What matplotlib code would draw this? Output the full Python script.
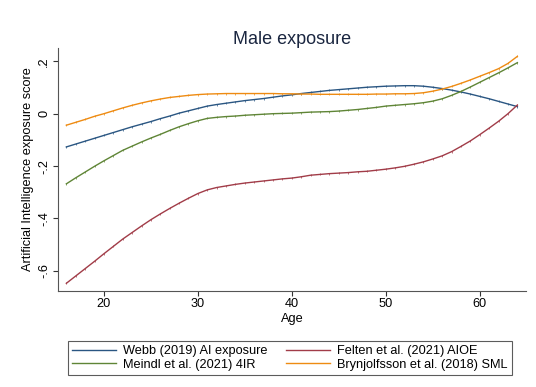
import numpy as np
import matplotlib
matplotlib.use("Agg")
import matplotlib.pyplot as plt

plt.rcParams['font.family'] = ['Liberation Sans', 'DejaVu Sans']

# age profile of AI exposure, men
ages = np.arange(16, 65)

webb = [-0.127, -0.116, -0.105, -0.094, -0.083, -0.072, -0.061, -0.050, -0.040, -0.030,
        -0.019, -0.009, 0.002, 0.011, 0.020, 0.029, 0.035, 0.040, 0.045, 0.050,
        0.054, 0.058, 0.063, 0.068, 0.072, 0.077, 0.081, 0.085, 0.089, 0.092,
        0.095, 0.098, 0.101, 0.103, 0.105, 0.106, 0.107, 0.107, 0.105, 0.101,
        0.096, 0.090, 0.083, 0.075, 0.066, 0.057, 0.047, 0.037, 0.027]

felten = [-0.648, -0.620, -0.592, -0.564, -0.535, -0.507, -0.479, -0.454, -0.429, -0.405,
          -0.383, -0.362, -0.342, -0.323, -0.305, -0.291, -0.282, -0.276, -0.270, -0.265,
          -0.261, -0.257, -0.253, -0.249, -0.246, -0.241, -0.235, -0.232, -0.229, -0.227,
          -0.225, -0.222, -0.220, -0.216, -0.212, -0.207, -0.201, -0.193, -0.184, -0.173,
          -0.161, -0.145, -0.125, -0.104, -0.080, -0.055, -0.029, 0.000, 0.033]

meindl = [-0.268, -0.245, -0.223, -0.201, -0.180, -0.160, -0.140, -0.124, -0.108, -0.093,
          -0.079, -0.064, -0.050, -0.038, -0.027, -0.018, -0.014, -0.011, -0.009, -0.006,
          -0.004, -0.002, 0.000, 0.001, 0.002, 0.004, 0.006, 0.007, 0.008, 0.010,
          0.013, 0.016, 0.020, 0.024, 0.029, 0.032, 0.035, 0.038, 0.042, 0.048,
          0.057, 0.070, 0.085, 0.102, 0.120, 0.138, 0.156, 0.175, 0.195]

brynjolfsson = [-0.044, -0.033, -0.022, -0.010, 0.000, 0.011, 0.022, 0.032, 0.041, 0.049,
                0.056, 0.062, 0.066, 0.070, 0.073, 0.075, 0.076, 0.077, 0.077, 0.077,
                0.077, 0.077, 0.077, 0.076, 0.076, 0.075, 0.075, 0.074, 0.074, 0.074,
                0.074, 0.074, 0.074, 0.075, 0.075, 0.076, 0.076, 0.077, 0.080, 0.086,
                0.094, 0.104, 0.116, 0.129, 0.143, 0.157, 0.172, 0.192, 0.219]

labels = ["Webb (2019) AI exposure", "Felten et al. (2021) AIOE",
          "Meindl et al. (2021) 4IR", "Brynjolfsson et al. (2018) SML"]
colors = ["#2a5682", "#a13c48", "#5f8536", "#ee8b12"]
yticks = [-0.6, -0.4, -0.2, 0, 0.2]
yticklabels = ["-.6", "-.4", "-.2", "0", ".2"]
xticks = [20, 30, 40, 50, 60]

fig = plt.figure(figsize=(5.36, 3.87), dpi=100)
ax = fig.add_axes([0.108, 0.249, 0.873, 0.627])

series = [webb, felten, meindl, brynjolfsson]
handles = []
for vals, lab, c in zip(series, labels, colors):
    h, = ax.plot(ages, vals, color=c, lw=1.0, marker='|', ms=2.0, mew=0.5, label=lab)
    handles.append(h)

ax.set_xlim(15.1, 64.9)
ax.set_ylim(-0.676, 0.251)
ax.set_xticks(xticks)
ax.set_yticks(yticks)
ax.set_yticklabels(yticklabels, rotation=90, va='center')
ax.tick_params(colors='#333333', labelcolor='black', labelsize=9.2, length=3.5, width=0.8, pad=2)
for s in ['top', 'right']:
    ax.spines[s].set_visible(False)
for s in ['left', 'bottom']:
    ax.spines[s].set_color('#555555')
    ax.spines[s].set_linewidth(0.8)

ax.set_xlabel("Age", fontsize=9.2, labelpad=2)
ax.set_ylabel("Artificial Intelligence exposure score", fontsize=9.2, labelpad=3)
ax.set_title("Male exposure", fontsize=13, color='#1a2640', pad=3)

# legend fills column by column, so reorder to get Webb/Felten on the top row
order = [0, 2, 1, 3]
leg = fig.legend(handles=[handles[i] for i in order],
                 labels=[labels[i] for i in order],
                 ncol=2, loc='center', mode='expand',
                 bbox_to_anchor=(62 / 536, 9 / 387, 456 / 536, 40 / 387),
                 fontsize=9.2, frameon=True, fancybox=False, edgecolor='#333333',
                 handlelength=3.4, handletextpad=0.6, borderpad=0.3, labelspacing=0.15,
                 columnspacing=1.0)
leg.get_frame().set_linewidth(0.8)
for lh in leg.get_lines():
    lh.set_marker('')
    lh.set_linewidth(1.0)

fig.savefig("out.png", dpi=100)
